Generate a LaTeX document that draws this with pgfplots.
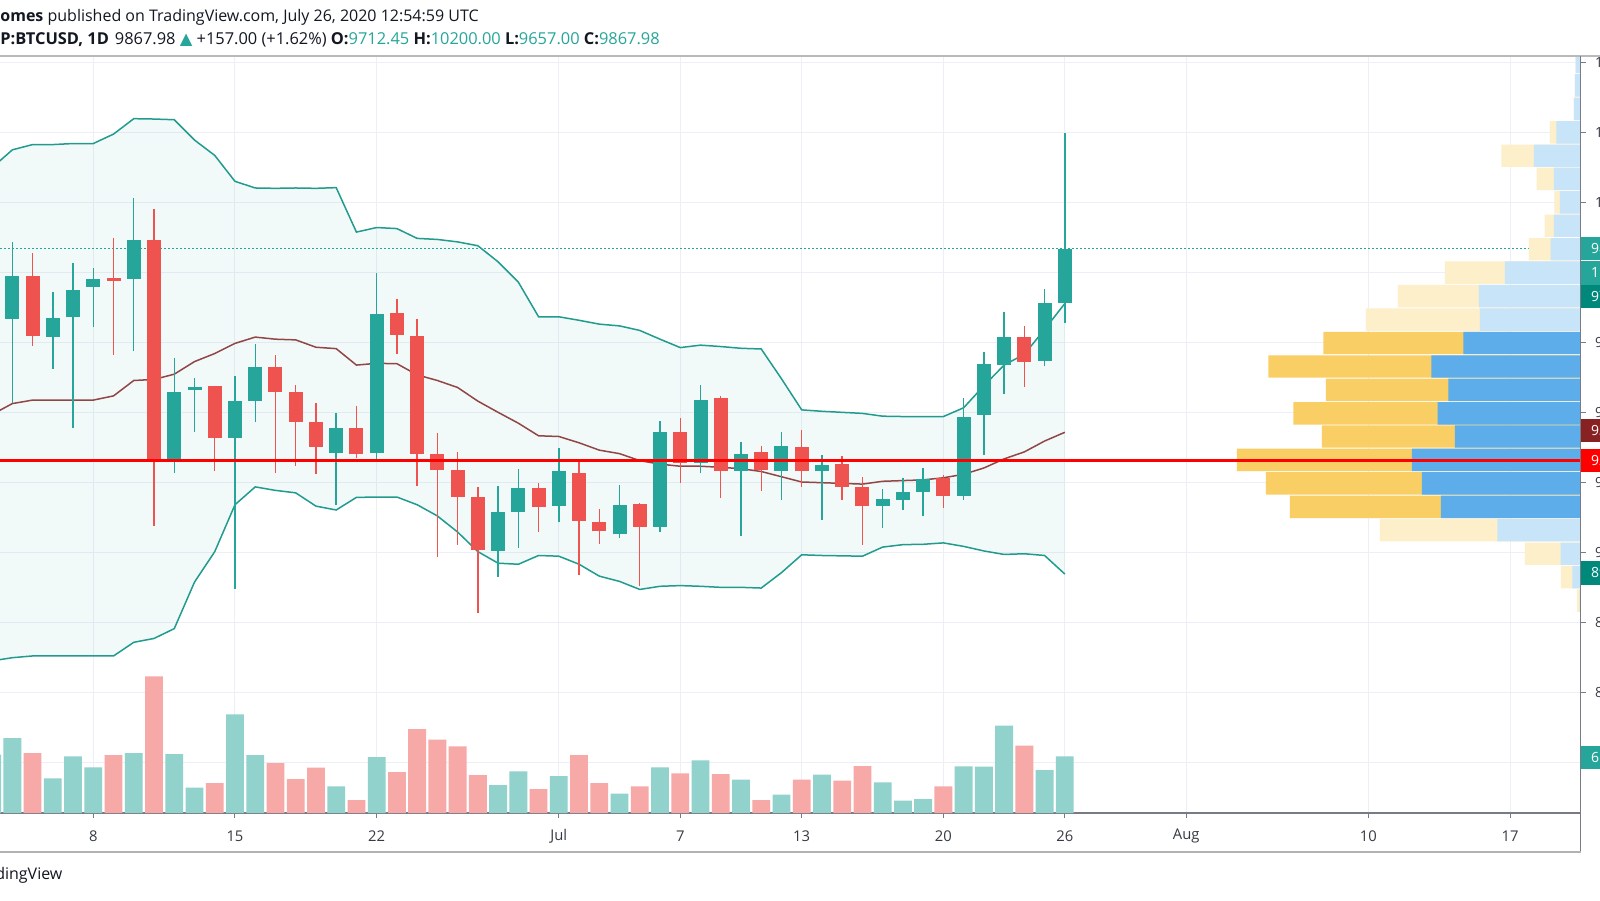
\documentclass[border=0pt]{standalone}
\usepackage{pgfplots}
\pgfplotsset{compat=1.18}
\usepackage{pgfplotstable}
\usepackage{fontspec}
\setmainfont{Open Sans}
\newfontfamily\symfont{DejaVu Sans}

\definecolor{cgreen}{RGB}{38,166,154}
\definecolor{cred}{RGB}{239,83,80}
\definecolor{vgreen}{RGB}{146,210,204}
\definecolor{vred}{RGB}{247,169,167}
\definecolor{bbline}{RGB}{34,155,143}
\definecolor{bbmid}{RGB}{145,70,70}
\definecolor{gridc}{RGB}{236,239,246}
\definecolor{axisc}{RGB}{120,123,134}
\definecolor{txt}{RGB}{19,23,34}
\definecolor{pyel}{RGB}{249,207,101}
\definecolor{pblue}{RGB}{92,173,234}
\definecolor{lyel}{RGB}{253,239,201}
\definecolor{lblue}{RGB}{199,228,248}
\definecolor{tealdk}{RGB}{0,137,123}
\definecolor{redlbl}{RGB}{136,34,34}

% day index: June d = d, July d = 30+d, August d = 61+d
\pgfplotstableread{
d O H L C
3 9518 9700 9480 9671
4 9669 9888 9428 9791
6 9617 9744 9525 9671
7 9673 9828 9357 9750
8 9759 9814 9644 9782
10 9783 10013 9576 9894
12 9265 9557 9227 9460
13 9465 9500 9344 9472
15 9329 9505 8897 9433
16 9434 9596 9373 9530
20 9285 9400 9135 9355
22 9285 9800 9263 9683
28 9006 9191 8931 9115
29 9115 9239 9013 9186
31 9133 9299 9087 9232
34 9052 9194 9043 9135
36 9074 9375 9059 9346
38 9256 9479 9227 9436
40 9232 9317 9048 9281
42 9232 9344 9151 9304
44 9232 9280 9092 9250
47 9132 9183 9071 9153
48 9150 9214 9122 9174
49 9174 9242 9105 9211
51 9161 9443 9151 9389
52 9393 9573 9280 9538
53 9536 9688 9452 9615
55 9548 9753 9532 9712
56 9712.45 10200 9657 9867.98
}\greencandles

\pgfplotstableread{
d O H L C
5 9791 9857 9591 9619
9 9786 9900 9566 9777
11 9894 9983 9076 9265
14 9477 9477 9232 9329
17 9530 9566 9227 9459
18 9459 9479 9247 9373
19 9373 9429 9224 9302
21 9355 9420 9271 9281
23 9686 9725 9569 9622
24 9618 9667 9191 9283
25 9283 9341 8987 9237
26 9237 9288 9023 9158
27 9158 9188 8829 9008
30 9186 9200 9059 9130
32 9229 9268 8936 9091
33 9089 9125 9025 9061
35 9140 9143 8904 9074
37 9344 9385 9200 9256
39 9441 9448 9156 9232
41 9288 9304 9176 9237
43 9302 9350 9188 9232
45 9253 9275 9151 9189
46 9189 9217 9023 9132
50 9212 9222 9128 9161
54 9615 9648 9474 9546
}\redcandles

\pgfplotstableread{
d U M Lo
3 10100 9395 8691
4 10151 9426 8700
5 10166 9436 8705
6 10166 9436 8705
7 10169 9436 8705
8 10169 9436 8705
9 10196 9448 8705
10 10240 9492 8744
11 10239 9495 8755
12 10237 9510 8783
13 10179 9546 8916
14 10135 9569 9003
15 10061 9598 9137
16 10042 9616 9188
17 10041 9610 9178
18 10042 9608 9171
19 10041 9587 9133
20 10043 9583 9122
21 9916 9536 9158
22 9929 9541 9159
23 9926 9540 9159
24 9898 9508 9137
25 9895 9492 9105
26 9888 9472 9059
27 9877 9433 9003
28 9831 9401 8970
29 9773 9370 8967
30 9674 9334 8992
31 9674 9332 8990
32 9664 9314 8967
33 9653 9293 8933
34 9648 9283 8918
35 9635 9263 8895
36 9610 9253 8904
37 9586 9247 8906
38 9593 9247 8904
39 9589 9244 8901
40 9584 9240 8901
41 9582 9232 8899
42 9497 9217 8943
43 9408 9202 8994
44 9404 9200 8992
45 9401 9198 8991
46 9398 9196 8990
47 9390 9204 9016
48 9389 9206 9023
49 9389 9208 9024
50 9389 9214 9028
51 9414 9224 9018
52 9477 9242 9005
53 9536 9268 8995
54 9567 9288 8997
55 9638 9319 8992
56 9712 9344 8939
}\bb

\pgfplotsset{
  panel/.style={at={(0pt,43.5pt)}, anchor=south west, scale only axis,
    width=790.3pt, height=378.5pt, enlargelimits=false},
  wick/.style={draw=none, mark=none, forget plot,
    error bars/.cd, y dir=plus, y explicit, error mark=none,
    error bar style={draw=#1, line width=0.7pt}},
  body/.style={draw=none, mark=none, forget plot,
    error bars/.cd, y dir=plus, y explicit, error mark=none,
    error bar style={draw=#1, line width=7pt}},
  pbar/.style={xbar, bar width=64, bar shift=0pt, draw=none, fill=#1},
}

\begin{document}
\begin{tikzpicture}
\begin{scope}
\clip (0,0) rectangle (800pt,450pt);
\fill[white] (0,0) rectangle (800pt,450pt);

% price panel
\begin{axis}[panel,
  xmin=3.39, xmax=81.483, ymin=8256.3, ymax=10419.1,
  axis x line*=bottom, axis y line*=right,
  axis line style={-, draw=axisc, line width=0.8pt},
  xtick={8,15,22,31,37,43,50,56,62,71,78},
  xticklabels={8,15,22,Jul,7,13,20,26,Aug,10,17},
  ytick={8400,8600,8800,9000,9200,9400,9600,9800,10000,10200,10400},
  yticklabels={8400.00,8600.00,8800.00,9000.00,9200.00,9400.00,9600.00,9800.00,10000.00,10200.00,10400.00},
  scaled y ticks=false,
  grid=major, major grid style={draw=gridc, line width=0.5pt},
  tick align=outside, major tick length=2.5pt,
  tick style={draw=axisc, line width=0.5pt},
  xticklabel style={font=\fontsize{7.4}{8}\selectfont, text=txt!85, anchor=center, yshift=-9pt},
  yticklabel style={font=\fontsize{7}{8}\selectfont, text=txt!85, anchor=west, inner sep=0pt, xshift=4.5pt},
]
% band area: lower band stacked with the band width, closed onto the lower band
\addplot[stack plots=y, draw=none, forget plot] table[x=d, y=Lo] {\bb};
\addplot[stack plots=y, fill=cgreen, fill opacity=0.06, draw=none, forget plot]
  table[x=d, y expr=\thisrow{U}-\thisrow{Lo}] {\bb} \closedcycle;
\addplot[stack plots=false, bbline, line width=0.75pt] table[x=d, y=U] {\bb};
\addplot[stack plots=false, bbline, line width=0.75pt] table[x=d, y=Lo] {\bb};
\addplot[stack plots=false, bbmid, line width=0.75pt] table[x=d, y=M] {\bb};

\addplot[stack plots=false, cgreen, line width=0.5pt, dash pattern=on 1pt off 1pt] coordinates {(3.39,9867.98) (81.483,9867.98)};

\addplot[stack plots=false, wick=cgreen] table[x=d, y=L, y error expr=\thisrow{H}-\thisrow{L}] {\greencandles};
\addplot[stack plots=false, body=cgreen] table[x=d, y=O, y error expr=\thisrow{C}-\thisrow{O}] {\greencandles};
\addplot[stack plots=false, wick=cred] table[x=d, y=L, y error expr=\thisrow{H}-\thisrow{L}] {\redcandles};
\addplot[stack plots=false, body=cred] table[x=d, y=C, y error expr=\thisrow{O}-\thisrow{C}] {\redcandles};
\end{axis}

% volume panel
\begin{axis}[panel, hide axis,
  xmin=3.39, xmax=81.483, ymin=0, ymax=2271,
  ybar, bar width=0.88, bar shift=0pt]
\addplot[fill=vgreen, draw=none] coordinates {
(3,175) (4,225) (6,104) (7,170) (8,137) (10,180) (12,177) (13,76) (15,296) (16,174)
(20,80) (22,168) (28,84) (29,125) (31,111) (34,58) (36,137) (38,158) (40,100) (42,55)
(44,115) (47,92) (48,37) (49,42) (51,140) (52,139) (53,262) (55,129) (56,170)};
\addplot[fill=vred, draw=none] coordinates {
(5,180) (9,174) (11,410) (14,90) (17,150) (18,102) (19,136) (21,39) (23,123) (24,252)
(25,220) (26,200) (27,114) (30,72) (32,174) (33,90) (35,80) (37,119) (39,117) (41,39)
(43,100) (45,97) (46,141) (50,80) (54,202)};
\end{axis}

% volume profile, measured in pixels from the price scale
\begin{axis}[panel, hide axis, x dir=reverse,
  xmin=0, xmax=1580.6, ymin=8256.3, ymax=10419.1]
\addplot[pbar=lyel] coordinates {
(5,10402) (5.7,10335) (6.7,10268) (30.7,10201) (79.3,10134) (44,10068) (26.3,10001)
(36,9934) (51.7,9867) (135.7,9800) (182.7,9733) (214.7,9666)
(200.7,9064) (55.7,8997) (19.7,8930) (3.5,8863)};
\addplot[pbar=lblue] coordinates {
(5,10402) (5.7,10335) (6.7,10268) (24.3,10201) (46.7,10134) (26.7,10068) (20.7,10001)
(26.7,9934) (30,9867) (75.7,9800) (101.7,9733) (100.7,9666)
(83.3,9064) (20,8997) (8.3,8930) (1,8863)};
\addplot[pbar=pyel] coordinates {
(257.3,9599) (312.3,9532) (254.7,9465) (287.3,9398) (258.7,9332) (343.7,9265) (314.7,9198) (290.7,9131)};
\addplot[pbar=pblue] coordinates {
(117.3,9599) (149.3,9532) (132.3,9465) (143,9398) (125.7,9332) (168.7,9265) (158.7,9198) (139.7,9131)};
\addplot[red, line width=1.2pt] coordinates {(0,9263) (1580.6,9263)};
\end{axis}

% frame lines
\draw[gray!55, line width=1pt] (0,422pt) -- (800pt,422pt);
\draw[axisc, line width=0.8pt] (790.3pt,24pt) -- (790.3pt,422pt);
\draw[gray!60, line width=1pt] (0,24pt) -- (790.3pt,24pt);

% price scale labels
\tikzset{lbl/.style={anchor=west, fill=#1, text=white, minimum height=11.6pt,
  minimum width=20pt, inner xsep=5pt, inner ysep=0pt, align=left,
  font=\fontsize{7}{8}\selectfont}}
\node[lbl=cgreen] at (790.3pt,325.6pt) {9867.98};
\node[lbl=cgreen] at (790.3pt,313.5pt) {11:05:00};
\node[lbl=tealdk] at (790.3pt,301.9pt) {9712.45};
\node[lbl=redlbl] at (790.3pt,234.6pt) {9344.00};
\node[lbl=red] at (790.3pt,219.7pt) {9263.00};
\node[lbl=tealdk] at (790.3pt,163.5pt) {8939.00};
\node[lbl=cgreen] at (790.3pt,71.4pt) {6.25K};

% header and footer
\node[anchor=west, inner sep=0pt, text=txt, font=\fontsize{8}{9}\selectfont] at (0,441.5pt)
  {\textbf{omes} published on TradingView.com, July 26, 2020 12:54:59 UTC};
\node[anchor=west, inner sep=0pt, text=txt, font=\fontsize{8.2}{9}\selectfont] at (0,430.2pt)
  {\textbf{P:BTCUSD, 1D}\hspace{3pt}9867.98 {\color{cgreen}\symfont ▲} +157.00 (+1.62\%)
   \textbf{O:}{\color{cgreen}9712.45} \textbf{H:}{\color{cgreen}10200.00}
   \textbf{L:}{\color{cgreen}9657.00} \textbf{C:}{\color{cgreen}9867.98}};
\node[anchor=east, inner sep=0pt, text=txt, font=\fontsize{8}{9}\selectfont] at (31.4pt,12.2pt) {TradingView};
\end{scope}
\pgfresetboundingbox
\useasboundingbox (0,0) rectangle (800pt,450pt);
\end{tikzpicture}
\end{document}
